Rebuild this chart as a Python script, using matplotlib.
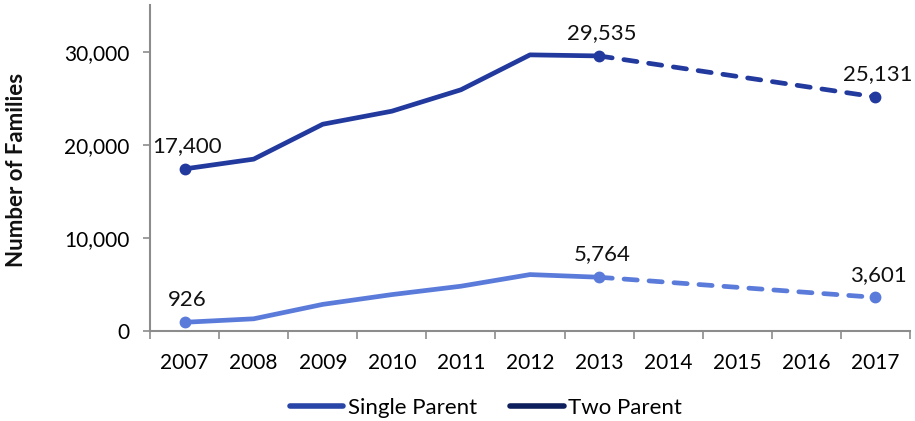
import matplotlib.pyplot as plt
from matplotlib.lines import Line2D
import numpy as np

plt.rcParams['font.family'] = ['Lato', 'DejaVu Sans']

years = [2007, 2008, 2009, 2010, 2011, 2012, 2013, 2014, 2015, 2016, 2017]
two_parent = [17400, 18450, 22200, 23600, 25900, 29650, 29535]
single_parent = [926, 1300, 2850, 3900, 4800, 6050, 5764]
# projected values: only the 2013 and 2017 ends are shown
proj_years = [2013, 2017]
two_parent_proj = [29535, 25131]
single_parent_proj = [5764, 3601]

labels_two = {2007: 17400, 2013: 29535, 2017: 25131}
labels_single = {2007: 926, 2013: 5764, 2017: 3601}

c_two = '#22399e'
c_single = '#5b7bdb'
c_leg_single = '#2a45a8'
c_leg_two = '#0d1f5c'
axis_gray = '#8c8c8c'

fig = plt.figure(figsize=(9.15, 4.21), dpi=100)
ax = fig.add_axes([0.164, 0.214, 0.8305, 0.774])

x = np.arange(len(years))
pos = {y: i for i, y in enumerate(years)}
n_obs = len(two_parent)

lw = 3.4
dash = (0, (2.8, 2.5))
ax.plot(x[:n_obs], two_parent, color=c_two, lw=lw, solid_capstyle='round', solid_joinstyle='round')
ax.plot(x[:n_obs], single_parent, color=c_single, lw=lw, solid_capstyle='round', solid_joinstyle='round')
px = [pos[y] for y in proj_years]
ax.plot(px, two_parent_proj, color=c_two, lw=lw, ls=dash, dash_capstyle='round')
ax.plot(px, single_parent_proj, color=c_single, lw=lw, ls=dash, dash_capstyle='round')

for d, col in ((labels_two, c_two), (labels_single, c_single)):
    for yr, v in d.items():
        ax.plot(pos[yr], v, 'o', color=col, ms=7.5, mec=col)
        ax.annotate(f'{v:,}', (pos[yr], v), xytext=(2, 12), textcoords='offset points',
                    ha='center', va='baseline', fontsize=16, color='#111111')

ax.set_xlim(-0.5, len(years) - 0.5)
ax.set_ylim(0, 35000)
ax.set_yticks([0, 10000, 20000, 30000])
ax.set_yticklabels([f'{v:,}' for v in [0, 10000, 20000, 30000]])
ax.set_xticks(x)
ax.set_xticklabels([str(y) for y in years])
ax.set_xticks(np.arange(-0.5, len(years)), minor=True)
ax.tick_params(axis='x', which='major', length=0, pad=16, labelsize=15)
ax.tick_params(axis='x', which='minor', length=6, width=1.2, color=axis_gray)
ax.tick_params(axis='y', length=5, width=1.2, color=axis_gray, pad=10, labelsize=15)

for s in ('top', 'right'):
    ax.spines[s].set_visible(False)
for s in ('left', 'bottom'):
    ax.spines[s].set_color(axis_gray)
    ax.spines[s].set_linewidth(1.5)

fig.text(17 / 915, 1 - 170 / 421, 'Number of Families', rotation=90, ha='center', va='center',
         fontsize=16, fontweight='bold', color='#111111')

handles = [Line2D([], [], color=c_leg_single, lw=4, solid_capstyle='round'),
           Line2D([], [], color=c_leg_two, lw=4, solid_capstyle='round')]
fig.legend(handles, ['Single Parent', 'Two Parent'], loc='center',
           bbox_to_anchor=(486 / 915, 1 - 408 / 421), ncol=2, frameon=False,
           fontsize=16, handlelength=2.4, handletextpad=0.2, columnspacing=1.5)

fig.savefig('out.png', dpi=100)
